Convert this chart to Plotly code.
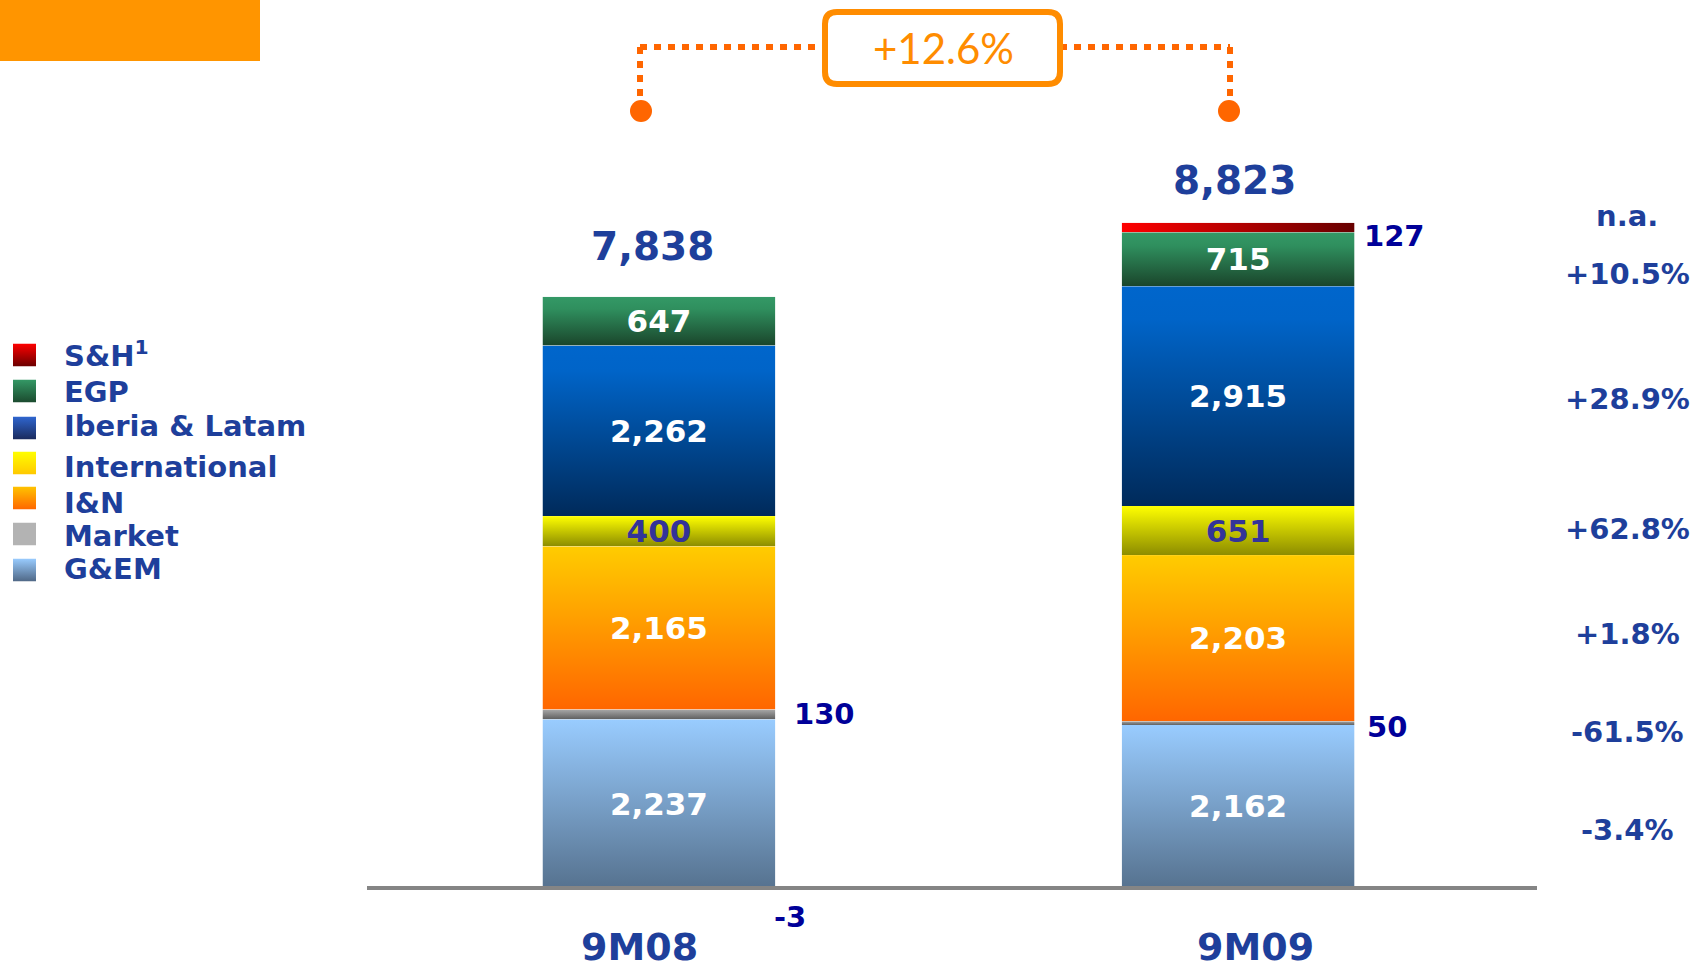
import base64
import plotly.graph_objects as go

# ---------------- data ----------------
categories = ["9M08", "9M09"]
gem = [2237, 2162]
market = [130, 50]
i_n = [2165, 2203]
international = [400, 651]
iberia_latam = [2262, 2915]
egp = [647, 715]
s_h = [-3, 127]
totals = [7838, 8823]
growth_labels = ["n.a.", "+10.5%", "+28.9%", "+62.8%", "+1.8%", "-61.5%", "-3.4%"]
overall_growth = "+12.6%"
legend_labels = ["S&H<sup>1</sup>", "EGP", "Iberia & Latam", "International", "I&N", "Market", "G&EM"]

# ---------------- style ----------------
W, H = 1696, 972
FONT = "DejaVu Sans"
BLUE_TXT = "#1E3F9B"
NAVY_TXT = "#000099"
BAR_W = 0.402


def px(x):
    return x / W


def py(y):
    return 1 - y / H


def gradient_uri(stops, horizontal=False):
    x2, y2 = ("1", "0") if horizontal else ("0", "1")
    st = "".join(f"<stop offset='{o}' stop-color='{c}'/>" for o, c in stops)
    svg = (f"<svg xmlns='http://www.w3.org/2000/svg' width='100' height='100' viewBox='0 0 100 100' "
           f"preserveAspectRatio='none'><defs><linearGradient id='g' x1='0' y1='0' x2='{x2}' y2='{y2}'>"
           f"{st}</linearGradient></defs><rect x='0' y='0' width='100' height='100' fill='url(#g)'/></svg>")
    return "data:image/svg+xml;base64," + base64.b64encode(svg.encode()).decode()


# name, values, gradient stops, horizontal?, text colour, show inside text
series = [
    ("G&EM", gem, [(0, "#99CCFF"), (1, "#56728F")], False, "white", True),
    ("Market", market, [(0, "#A8A8A8"), (1, "#5E5E5E")], False, "white", False),
    ("I&N", i_n, [(0, "#FFCC00"), (1, "#FF6600")], False, "white", True),
    ("International", international, [(0, "#FFFF00"), (1, "#8C8C00")], False, "#333399", True),
    ("Iberia & Latam", iberia_latam, [(0, "#0066CC"), (0.15, "#0064C8"), (1, "#002A5A")], False, "white", True),
    ("EGP", egp, [(0, "#349966"), (0.25, "#2F8F5E"), (1, "#1A452B")], False, "white", True),
    ("S&H", s_h, [(0, "#FF0000"), (1, "#660000")], True, "white", False),
]

fig = go.Figure()
images = []
pos_base = [0.0 for _ in categories]
for name, vals, stops, horiz, tcolor, show_text in series:
    fig.add_trace(go.Bar(
        name=name, x=list(range(len(categories))), y=vals, width=BAR_W,
        marker=dict(color="rgba(0,0,0,0)", line=dict(width=0)),
        text=[f"{v:,}" for v in vals] if show_text else None,
        textposition="inside", insidetextanchor="middle", textangle=0,
        constraintext="none",
        textfont=dict(family=FONT, size=31, color=tcolor, weight="bold"),
        hoverinfo="skip",
    ))
    uri = gradient_uri(stops, horiz)
    for i, v in enumerate(vals):
        if v >= 0:
            top = pos_base[i] + v
            pos_base[i] = top
        else:
            top = 0
        images.append(dict(source=uri, xref="x", yref="y", x=i - BAR_W / 2, y=top,
                           sizex=BAR_W, sizey=abs(v), xanchor="left", yanchor="top",
                           sizing="stretch", layer="below"))

annotations = []
shapes = []

# totals above bars
total_shift = [(-6, 50), (-4, 42)]
for i, c in enumerate(categories):
    annotations.append(dict(
        x=i, y=pos_base[i], xref="x", yref="y", text=f"{totals[i]:,}",
        showarrow=False, xshift=total_shift[i][0], yshift=total_shift[i][1],
        font=dict(family=FONT, size=39, color=BLUE_TXT, weight="bold")))

# outside labels for thin segments (Market, S&H)
mk_shift = [(133, 0), (127, -4)]
sh_shift = [(113, -29), (124, -8)]
for i, c in enumerate(categories):
    annotations.append(dict(
        x=i, y=gem[i] + market[i] / 2, xref="x", yref="y", text=f"{market[i]:,}",
        showarrow=False, xanchor="left", xshift=mk_shift[i][0], yshift=mk_shift[i][1],
        font=dict(family=FONT, size=29, color=NAVY_TXT, weight="bold")))
    ysh = s_h[i] if s_h[i] < 0 else pos_base[i] - s_h[i] / 2
    annotations.append(dict(
        x=i, y=ysh, xref="x", yref="y", text=f"{s_h[i]:,}",
        showarrow=False, xanchor="left", xshift=sh_shift[i][0], yshift=sh_shift[i][1],
        font=dict(family=FONT, size=29, color=NAVY_TXT, weight="bold")))

# category labels
cat_shift = [-19, 17]
for i, c in enumerate(categories):
    annotations.append(dict(
        x=i, y=py(947), xref="x", yref="paper", text=c, showarrow=False,
        xshift=cat_shift[i], yanchor="middle",
        font=dict(family=FONT, size=38, color=BLUE_TXT, weight="bold")))

# growth column on the right
growth_y = [216, 274, 399, 529, 634, 732, 830]
for lab, yy in zip(growth_labels, growth_y):
    annotations.append(dict(
        x=px(1627), y=py(yy), xref="paper", yref="paper", text=lab, showarrow=False,
        xanchor="center", yanchor="middle",
        font=dict(family=FONT, size=29, color=BLUE_TXT, weight="bold")))

# custom legend
leg_stops = [
    [(0, "#FF0000"), (1, "#6A0000")],
    [(0, "#349966"), (1, "#1B4A2E")],
    [(0, "#2F66D0"), (1, "#1A2A5C")],
    [(0, "#FFFF00"), (1, "#FFC800")],
    [(0, "#FFC400"), (1, "#FF6600")],
    [(0, "#B3B3B3"), (1, "#B3B3B3")],
    [(0, "#99CCFF"), (1, "#4F6785")],
]
leg_sq_y = [355, 391, 428, 463, 498, 534, 570]
leg_tx_y = [354, 392, 426, 467, 503, 536, 569]
for lab, stops, sy, ty in zip(legend_labels, leg_stops, leg_sq_y, leg_tx_y):
    images.append(dict(source=gradient_uri(stops), xref="paper", yref="paper",
                       x=px(13), y=py(sy - 11.5), sizex=px(23), sizey=23 / H,
                       xanchor="left", yanchor="top", sizing="stretch", layer="above"))
    annotations.append(dict(
        x=px(63), y=py(ty), xref="paper", yref="paper", text=lab, showarrow=False,
        xanchor="left", yanchor="middle", borderpad=0,
        font=dict(family=FONT, size=29, color=BLUE_TXT, weight="bold")))

# baseline
shapes.append(dict(type="line", xref="paper", yref="y", x0=px(367), x1=px(1537), y0=0, y1=0,
                   line=dict(color="#858585", width=4), layer="above"))

# top-left orange block
shapes.append(dict(type="rect", xref="paper", yref="paper", x0=0, x1=px(260), y0=py(0), y1=py(61),
                   fillcolor="#FF9500", line=dict(width=0)))

# growth bracket
DOT = "#FF6600"
ORG = "#FF8C00"
bx0, bx1, by0, by1, r = 825, 1060, 12, 84, 12
for seg in [((640, 47), (825, 47)), ((1060, 47), (1230, 47)), ((640, 47), (640, 99)), ((1230, 47), (1230, 99))]:
    (x0, y0), (x1, y1) = seg
    shapes.append(dict(type="line", xref="paper", yref="paper", x0=px(x0), y0=py(y0), x1=px(x1), y1=py(y1),
                       line=dict(color=DOT, width=6, dash="7px,7px")))
for cx in [641, 1229]:
    shapes.append(dict(type="circle", xref="paper", yref="paper", x0=px(cx - 11), x1=px(cx + 11),
                       y0=py(100), y1=py(122), fillcolor=DOT, line=dict(width=0)))

path = (f"M {px(bx0 + r)},{py(by0)} L {px(bx1 - r)},{py(by0)} Q {px(bx1)},{py(by0)} {px(bx1)},{py(by0 + r)} "
        f"L {px(bx1)},{py(by1 - r)} Q {px(bx1)},{py(by1)} {px(bx1 - r)},{py(by1)} "
        f"L {px(bx0 + r)},{py(by1)} Q {px(bx0)},{py(by1)} {px(bx0)},{py(by1 - r)} "
        f"L {px(bx0)},{py(by0 + r)} Q {px(bx0)},{py(by0)} {px(bx0 + r)},{py(by0)} Z")
shapes.append(dict(type="path", xref="paper", yref="paper", path=path,
                   fillcolor="white", line=dict(color=ORG, width=6)))
annotations.append(dict(
    x=px(943), y=py(48), xref="paper", yref="paper", text=overall_growth, showarrow=False,
    xanchor="center", yanchor="middle",
    font=dict(family="Lato", size=42, color=ORG)))

fig.update_layout(
    width=W, height=H, autosize=False,
    margin=dict(l=0, r=0, t=0, b=0, pad=0),
    paper_bgcolor="white", plot_bgcolor="white",
    barmode="relative", showlegend=False,
    xaxis=dict(domain=[px(367), px(1537)], range=[-0.504, 1.516], visible=False, fixedrange=True),
    yaxis=dict(range=[-1114, 11777], visible=False, domain=[0, 1], fixedrange=True),
    annotations=annotations, shapes=shapes, images=images,
)

fig.write_html("out.html", config={"displayModeBar": False},
               post_script="document.body.style.margin='0px';")
